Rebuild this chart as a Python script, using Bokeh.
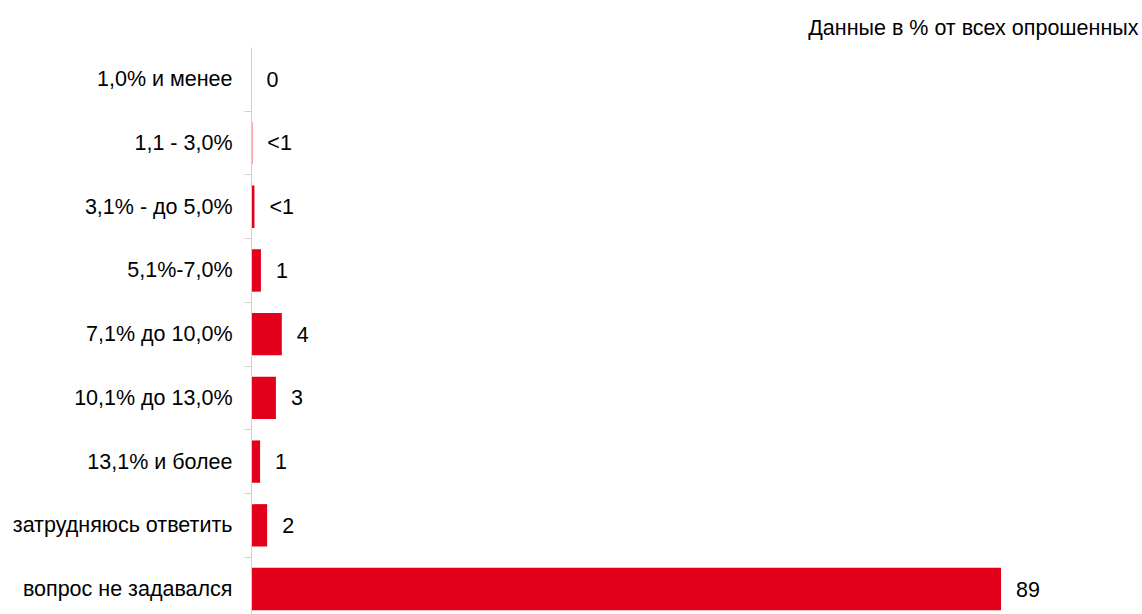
from bokeh.plotting import figure
from bokeh.models import Range1d, FixedTicker, ColumnDataSource, Title
from bokeh.core.properties import value
from bokeh.embed import file_html
from bokeh.resources import INLINE

categories = ["1,0% и менее", "1,1 - 3,0%", "3,1% - до 5,0%", "5,1%-7,0%",
              "7,1% до 10,0%", "10,1% до 13,0%", "13,1% и более",
              "затрудняюсь ответить", "вопрос не задавался"]
values = [0, 0.1, 0.35, 1.12, 3.6, 2.9, 1.02, 1.86, 89]
labels = ["0", "<1", "<1", "1", "4", "3", "1", "2", "89"]
note = "Данные в % от всех опрошенных"

FONT = "Liberation Sans"
FS = "21.5px"
RED = "#E2001A"

idx = list(range(len(categories)))
src = ColumnDataSource(dict(y=idx, v=values, lab=labels))

p = figure(width=1142, height=614, output_backend="svg", toolbar_location=None,
           x_range=Range1d(0, 105.8), y_range=Range1d(8.40, -0.5),
           min_border_left=251, min_border_top=47, min_border_bottom=0, min_border_right=0)
p.outline_line_color = None
p.grid.visible = False
p.xaxis.visible = False

p.hbar(y="y", right="v", left=0, height=0.665, source=src, fill_color=RED, line_color=None)
p.text(x="v", y="y", text="lab", source=src, x_offset=15, text_align="left",
       text_baseline="middle", text_font=value(FONT), text_font_size=FS, text_color="#000000")

ya = p.yaxis[0]
ya.ticker = FixedTicker(ticks=idx, minor_ticks=[i + 0.5 for i in idx[:-1]])
ya.major_label_overrides = {i: c for i, c in zip(idx, categories)}
ya.major_tick_line_color = None
ya.major_tick_out = 0
ya.major_tick_in = 0
ya.minor_tick_out = 7
ya.minor_tick_in = 0
ya.minor_tick_line_color = "#d0d0d0"
ya.axis_line_color = "#d0d0d0"
ya.major_label_standoff = 12
ya.major_label_text_font = FONT
ya.major_label_text_font_size = FS
ya.major_label_text_color = "#000000"

t = Title(text=note, align="right", text_font=FONT, text_font_size=FS,
          text_font_style="normal", text_color="#000000", standoff=16, offset=4)
p.add_layout(t, "above")

open("out.html", "w").write(file_html(p, INLINE))
